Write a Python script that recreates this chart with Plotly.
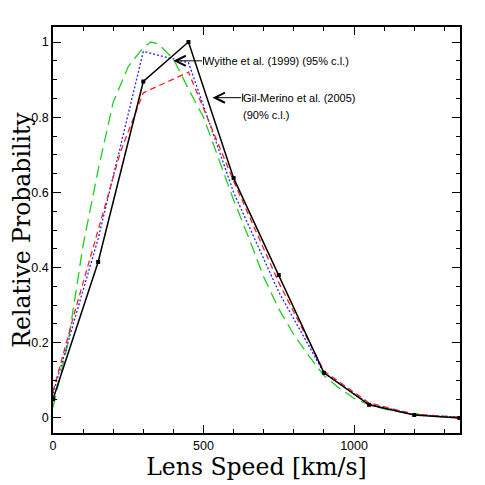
import plotly.graph_objects as go

# ---- data ----
speed_grid = [0, 150, 300, 450, 600, 750, 900, 1050, 1200, 1350]
black_vals = [0.05, 0.415, 0.895, 1.0, 0.638, 0.38, 0.12, 0.035, 0.008, 0.0]

red_speed = [0, 75, 150, 225, 300, 450, 600, 750, 900, 1050, 1200, 1350]
red_vals = [0.07, 0.29, 0.50, 0.71, 0.865, 0.92, 0.63, 0.36, 0.125, 0.04, 0.01, 0.002]

blue_speed = [0, 150, 300, 450, 600, 750, 900, 1050, 1200, 1350]
blue_vals = [0.065, 0.477, 0.975, 0.945, 0.60, 0.335, 0.12, 0.037, 0.009, 0.002]

green_speed = [0, 50, 100, 150, 200, 250, 300, 325, 350, 400, 450, 500, 550,
               600, 650, 700, 750, 800, 850, 900, 950, 1000, 1050, 1100,
               1150, 1200, 1250, 1300, 1350]
green_vals = [0.028, 0.2, 0.46, 0.66, 0.84, 0.935, 0.985, 1.0, 0.995, 0.955,
              0.875, 0.80, 0.69, 0.58, 0.48, 0.375, 0.29, 0.222, 0.165, 0.113,
              0.08, 0.052, 0.035, 0.024, 0.016, 0.01, 0.006, 0.003, 0.002]

x_tickvals = [0, 500, 1000]
y_tickvals = [0, 0.2, 0.4, 0.6, 0.8, 1]

# annotations (data coords)
wyithe_tip, wyithe_tail, wyithe_y = 400, 500, 0.95
wyithe_text = "Wyithe et al. (1999) (95% c.l.)"
gil_tip, gil_tail, gil_y = 530, 630, 0.852
gil_text1 = "Gil-Merino et al. (2005)"
gil_text2 = "(90% c.l.)"
gil_y2 = 0.806

fig = go.Figure()
fig.add_trace(go.Scatter(x=green_speed, y=green_vals, mode="lines",
                         line=dict(color="#22cc22", width=1.3, dash="12px,6px")))
fig.add_trace(go.Scatter(x=blue_speed, y=blue_vals, mode="lines",
                         line=dict(color="#2222ff", width=1.3, dash="2px,2px")))
fig.add_trace(go.Scatter(x=red_speed, y=red_vals, mode="lines",
                         line=dict(color="#ff2020", width=1.3, dash="6px,4px")))
fig.add_trace(go.Scatter(x=speed_grid, y=black_vals, mode="lines+markers",
                         line=dict(color="black", width=1.5),
                         marker=dict(symbol="square", size=4, color="black")))

ann_font = dict(family="Liberation Sans, Arial, sans-serif", size=11, color="black")
for tip, tail, yv in [(wyithe_tip, wyithe_tail, wyithe_y), (gil_tip, gil_tail, gil_y)]:
    fig.add_annotation(x=tip, y=yv, ax=tail, ay=yv, xref="x", yref="y",
                       axref="x", ayref="y", text="", showarrow=True,
                       arrowhead=5, arrowsize=2, arrowwidth=1, arrowcolor="black")
    fig.add_shape(type="line", xref="x", yref="y", x0=tail, x1=tail,
                  ysizemode="pixel", yanchor=yv, y0=-4, y1=4,
                  line=dict(color="black", width=1))
fig.add_annotation(x=wyithe_tail, y=wyithe_y, xref="x", yref="y", text=wyithe_text,
                   showarrow=False, xanchor="left", yanchor="middle", xshift=-2,
                   font=ann_font)
fig.add_annotation(x=gil_tail, y=gil_y, xref="x", yref="y", text=gil_text1,
                   showarrow=False, xanchor="left", yanchor="middle", xshift=-2,
                   font=ann_font)
fig.add_annotation(x=gil_tail, y=gil_y2, xref="x", yref="y", text=gil_text2,
                   showarrow=False, xanchor="left", yanchor="middle", xshift=-2,
                   font=ann_font)

tick_font = dict(family="Liberation Sans, Arial, sans-serif", size=12.5, color="black")
title_font = dict(family="DejaVu Serif, serif", size=23.5, color="black")

fig.update_xaxes(range=[0, 1352], tickvals=x_tickvals, ticktext=[str(v) for v in x_tickvals],
                 ticks="inside", ticklen=8, tickwidth=1, tickcolor="black",
                 minor=dict(dtick=100, ticks="inside", ticklen=4, tickwidth=1, tickcolor="black"),
                 showline=True, linecolor="black", linewidth=1.5, mirror="allticks",
                 showgrid=False, zeroline=False, tickfont=tick_font, automargin=False,
                 title=dict(text="Lens Speed [km/s]", font=title_font, standoff=3))
fig.update_yaxes(range=[-0.04, 1.04], tickvals=y_tickvals,
                 ticktext=["0", "0.2", "0.4", "0.6", "0.8", "1"],
                 ticks="inside", ticklen=8, tickwidth=1, tickcolor="black",
                 minor=dict(dtick=0.05, ticks="inside", ticklen=4, tickwidth=1, tickcolor="black"),
                 showline=True, linecolor="black", linewidth=1.5, mirror="allticks",
                 showgrid=False, zeroline=False, tickfont=tick_font, automargin=False,
                 title=dict(text="Relative Probability", font=title_font, standoff=12))

fig.update_layout(width=477, height=477, showlegend=False,
                  plot_bgcolor="white", paper_bgcolor="white",
                  margin=dict(l=45, r=25, t=19, b=52))

fig.write_html("out.html")
